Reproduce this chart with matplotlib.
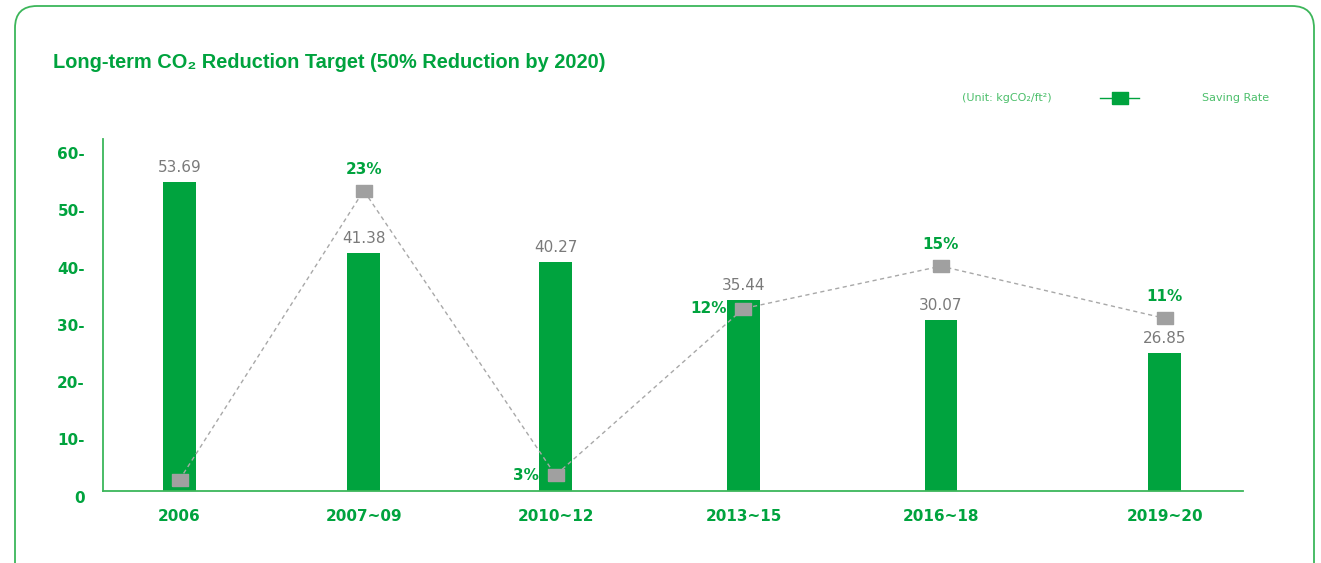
import matplotlib.pyplot as plt
from matplotlib.patches import FancyBboxPatch
from matplotlib.lines import Line2D

periods = ['2006', '2007~09', '2010~12', '2013~15', '2016~18', '2019~20']
emission_labels = ['53.69', '41.38', '40.27', '35.44', '30.07', '26.85']
emission_bars = [53.9, 41.5, 40.0, 33.3, 29.8, 24.0]   # bar heights as drawn
rate_labels = ['', '23%', '3%', '12%', '15%', '11%']
rate_marks = [1.9, 52.4, 2.7, 31.8, 39.2, 30.1]       # marker heights as drawn
yticks = [0, 10, 20, 30, 40, 50, 60]

green = '#00a33e'
light_green = '#3cb65a'
grey_txt = '#7a7a7a'

W, H = 1321, 563
fig = plt.figure(figsize=(W / 100, H / 100), dpi=100)

# rounded frame
frame = FancyBboxPatch((0.15, -0.4), 12.99, 5.97, boxstyle='round,pad=0,rounding_size=0.22',
                       transform=fig.dpi_scale_trans, fc='none', ec=light_green, lw=1.3)
fig.add_artist(frame)

# axes placed in pixel space of the reference
ax = fig.add_axes([103 / W, (H - 490.7) / H, 1140 / W, 351.7 / H])
xpos = [0, 0.98, 2.0, 3.0, 4.05, 5.24]
ax.set_xlim(-0.407, 5.657)
ax.set_ylim(0, 61.4)

ax.bar(xpos, emission_bars, width=0.173, color=green, zorder=2)
sq = [(-1.4, -1), (1.4, -1), (1.4, 1), (-1.4, 1), (-1.4, -1)]
ax.plot(xpos, rate_marks, color='#a8a8a8', lw=1, ls=(0, (3, 2.5)),
        marker=sq, ms=12, mfc='#a0a0a0', mec='#a0a0a0', zorder=3)

for x, h, lab in zip(xpos, emission_bars, emission_labels):
    ax.annotate(lab, (x, h), xytext=(0, 5), textcoords='offset points',
                ha='center', va='bottom', fontsize=11, color=grey_txt)

for i, (x, v, lab) in enumerate(zip(xpos, rate_marks, rate_labels)):
    if not lab:
        continue
    if v < 5 or i == 3:
        off, ha, va = (-12, 0), 'right', 'center'
    else:
        off, ha, va = (0, 10), 'center', 'bottom'
    ax.annotate(lab, (x, v), xytext=off, textcoords='offset points', ha=ha, va=va,
                fontsize=11, fontweight='bold', color=green)

for s in ['top', 'right']:
    ax.spines[s].set_visible(False)
for s in ['left', 'bottom']:
    ax.spines[s].set_color(light_green)
    ax.spines[s].set_linewidth(1.3)

ax.set_xticks(xpos)
ax.set_xticklabels(periods, fontsize=11, fontweight='bold', color=green)
ax.set_yticks(yticks)
ax.set_yticklabels([f'{t}-' if t else '0' for t in yticks], fontsize=11,
                   fontweight='bold', color=green)
ax.tick_params(axis='both', length=0)
ax.tick_params(axis='y', pad=13)
ax.tick_params(axis='x', pad=13)
for lab in ax.get_yticklabels():
    lab.set_va('top')

fig.text(53 / W, 1 - 62 / H, 'Long-term CO\u2082 Reduction Target (50% Reduction by 2020)',
         family=['Liberation Sans', 'DejaVu Sans'], fontsize=14.4, fontweight='bold',
         color=green, va='center', ha='left')

fig.text(962 / W, 1 - 98 / H, '(Unit: kgCO\u2082/ft\u00b2)', fontsize=8, color='#4cbf6b',
         va='center', ha='left')
fig.add_artist(Line2D([1100 / W, 1139 / W], [1 - 98 / H, 1 - 98 / H], color=green, lw=1,
                      transform=fig.transFigure))
fig.add_artist(Line2D([1120 / W], [1 - 98 / H], marker=sq, ms=12, color=green,
                      transform=fig.transFigure))
fig.text(1202 / W, 1 - 98 / H, 'Saving Rate', fontsize=8, color='#4cbf6b', va='center', ha='left')

fig.savefig('out.png', dpi=100)
